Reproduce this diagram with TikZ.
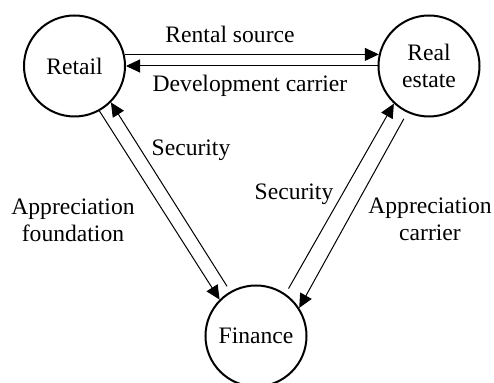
\documentclass[tikz,border=0pt]{standalone}
\usepackage{fontspec}
\setmainfont{Liberation Serif}
\usetikzlibrary{arrows.meta}

\tikzset{
  sector/.style={circle, draw, line width=1pt, minimum size=50.5pt, inner sep=0pt, align=center},
  flow/.style={-{Triangle[length=7pt,width=6.5pt]}, line width=0.5pt},
  lab/.style={anchor=base},
  lab2/.style={anchor=center, align=center}
}

\begin{document}
\begin{tikzpicture}[x=0.5pt, y=-0.5pt, font=\fontsize{11.8}{13.5}\selectfont]
    \useasboundingbox (0,0) rectangle (494,383);

    \node[sector] (retail)  at (74.5,66) {Retail};
    \node[sector] (estate)  at (429,66)  {Real\\estate};
    \node[sector] (finance) at (256,336) {Finance};

    \draw[flow] (retail.13) -- (estate.167) ; %
    \draw[flow] (estate.west) -- (retail.east) ; %
    \draw[flow] (retail.-61) -- (finance.135) ; %
    \draw[flow, shorten <=3pt] (finance.120) -- (retail.-45) ; %
    \draw[flow, shorten <=3pt] (finance.55) -- (estate.227) ; %
    \draw[flow, shorten <=3.5pt] (estate.245) -- (finance.33) ; %

    \node[lab]  (rent)  at (230,43)    {Rental source};
    \node[lab]  (dev)   at (250,91.5)  {Development carrier};
    \node[lab]  (secl)  at (191,156)   {Security};
    \node[lab]  (secr)  at (294,200)   {Security};
    \node[lab2] (found) at (73,220.5)  {Appreciation\\foundation};
    \node[lab2] (carr)  at (430,219.5) {Appreciation\\carrier};

\end{tikzpicture}
\end{document}
